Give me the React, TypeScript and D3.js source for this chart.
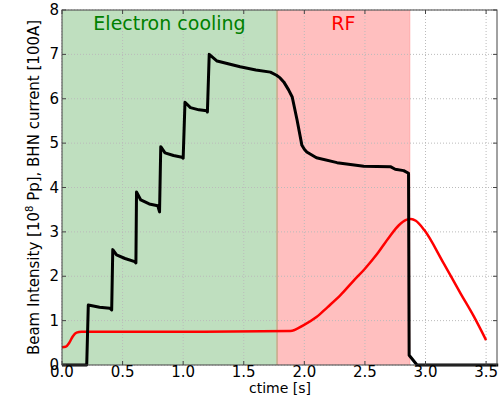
import React, { useEffect, useRef } from "react";
import * as d3 from "d3";

// black: beam intensity / BHN current
const beamT = [0, 0.204, 0.217, 0.31, 0.395, 0.41, 0.419, 0.45, 0.52, 0.6, 0.61,
  0.615, 0.65, 0.72, 0.79, 0.805, 0.815, 0.85, 0.92, 0.99, 1.0, 1.015, 1.06, 1.13, 1.195, 1.2,
  1.215, 1.28, 1.47, 1.6, 1.72, 1.77, 1.8, 1.83, 1.87, 1.9, 1.94, 1.98, 2.0, 2.02, 2.1, 2.27, 2.49,
  2.71, 2.75, 2.82, 2.86, 2.865, 2.93, 3.6];
const beamV = [0, 0, 1.35, 1.3, 1.28, 1.24, 2.6, 2.48, 2.4, 2.33, 2.3,
  3.9, 3.72, 3.63, 3.59, 3.45, 4.92, 4.78, 4.72, 4.68, 4.66, 5.92, 5.8, 5.75, 5.73, 5.7,
  7.0, 6.85, 6.72, 6.65, 6.6, 6.53, 6.47, 6.38, 6.2, 6.04, 5.52, 4.95, 4.86, 4.8, 4.67, 4.56, 4.48,
  4.47, 4.41, 4.38, 4.32, 0.22, 0, 0];

// red: RF voltage
const rfT = [0, 0.03, 0.06, 0.09, 0.12, 0.16, 1.0, 1.884, 1.995, 2.1, 2.19, 2.3, 2.4, 2.5, 2.6,
  2.7, 2.78, 2.84, 2.88, 2.92, 2.99, 3.15, 3.29, 3.4, 3.5];
const rfV = [0.4, 0.41, 0.5, 0.65, 0.73, 0.75, 0.75, 0.766, 0.9, 1.08, 1.3, 1.58, 1.88, 2.17, 2.5,
  2.88, 3.15, 3.27, 3.29, 3.25, 3.04, 2.29, 1.61, 1.09, 0.56];

const xTicks = [0, 0.5, 1.0, 1.5, 2.0, 2.5, 3.0, 3.5];
const yTicks = [0, 1, 2, 3, 4, 5, 6, 7, 8];
const spans = [
  { name: "Electron cooling", from: 0, to: 1.775, fill: "#bfdfbf", color: "#008000" },
  { name: "RF", from: 1.775, to: 2.87, fill: "#ffbfbf", color: "#ff0000" },
];

const App = () => {
  const svgRef = useRef(null);

  useEffect(() => {
    const width = 501;
    const height = 397;
    const m = { left: 62, top: 10, right: 4, bottom: 32 };
    const svg = d3.select(svgRef.current);
    svg.selectAll("*").remove();
    svg.attr("width", width).attr("height", height);

    const x = d3.scaleLinear().domain([0, 3.59]).range([m.left, width - m.right]);
    const y = d3.scaleLinear().domain([0, 8]).range([height - m.bottom, m.top]);
    const font = "DejaVu Sans, sans-serif";

    svg.append("rect").attr("width", width).attr("height", height).attr("fill", "white");

    // shaded phases
    spans.forEach(s => {
      svg.append("rect")
        .attr("x", x(s.from)).attr("y", y(8))
        .attr("width", x(s.to) - x(s.from)).attr("height", y(0) - y(8))
        .attr("fill", s.fill);
    });
    svg.append("line")
      .attr("x1", x(1.775)).attr("x2", x(1.775)).attr("y1", y(8)).attr("y2", y(0))
      .attr("stroke", "#c8a888").attr("stroke-width", 1.5);
    svg.append("line")
      .attr("x1", x(2.87)).attr("x2", x(2.87)).attr("y1", y(8)).attr("y2", y(0))
      .attr("stroke", "#ffaaaa").attr("stroke-width", 1);

    // grid
    const grid = svg.append("g").attr("stroke", "#bbbbbb").attr("stroke-dasharray", "1,2").attr("stroke-width", 1);
    xTicks.forEach(t => grid.append("line").attr("x1", x(t)).attr("x2", x(t)).attr("y1", y(0)).attr("y2", y(8)));
    yTicks.forEach(t => grid.append("line").attr("x1", x(0)).attr("x2", x(3.59)).attr("y1", y(t)).attr("y2", y(t)));

    // span labels
    svg.append("text").attr("x", (x(0) + x(1.775)) / 2).attr("y", 30)
      .attr("text-anchor", "middle").attr("font-family", font).attr("font-size", 19)
      .attr("fill", spans[0].color).text(spans[0].name);
    svg.append("text").attr("x", (x(1.775) + x(2.87)) / 2).attr("y", 30)
      .attr("text-anchor", "middle").attr("font-family", font).attr("font-size", 19)
      .attr("fill", spans[1].color).text(spans[1].name);

    // curves
    const smooth = d3.line().x(d => x(d[0])).y(d => y(d[1])).curve(d3.curveMonotoneX);
    const line = d3.line().x(d => x(d[0])).y(d => y(d[1]));
    svg.append("path")
      .attr("d", smooth(rfT.map((t, i) => [t, rfV[i]])))
      .attr("fill", "none").attr("stroke", "#ff0000").attr("stroke-width", 2.5)
      .attr("stroke-linejoin", "round");
    svg.append("path")
      .attr("d", line(beamT.map((t, i) => [t, beamV[i]])))
      .attr("fill", "none").attr("stroke", "#000000").attr("stroke-width", 3)
      .attr("stroke-linejoin", "round");

    // frame + ticks
    svg.append("rect").attr("x", x(0)).attr("y", y(8))
      .attr("width", x(3.59) - x(0)).attr("height", y(0) - y(8))
      .attr("fill", "none").attr("stroke", "#444").attr("stroke-width", 1);
    const tk = svg.append("g").attr("stroke", "#444").attr("stroke-width", 1);
    xTicks.forEach(t => {
      tk.append("line").attr("x1", x(t)).attr("x2", x(t)).attr("y1", y(0)).attr("y2", y(0) - 4);
      tk.append("line").attr("x1", x(t)).attr("x2", x(t)).attr("y1", y(8)).attr("y2", y(8) + 4);
    });
    yTicks.forEach(t => {
      tk.append("line").attr("x1", x(0)).attr("x2", x(0) + 4).attr("y1", y(t)).attr("y2", y(t));
      tk.append("line").attr("x1", x(3.59)).attr("x2", x(3.59) - 4).attr("y1", y(t)).attr("y2", y(t));
    });

    xTicks.forEach(t => {
      svg.append("text").attr("x", x(t)).attr("y", y(0) + 12)
        .attr("text-anchor", "middle").attr("font-family", font).attr("font-size", 15)
        .attr("fill", "#000").text(d3.format(".1f")(t));
    });
    yTicks.forEach(t => {
      svg.append("text").attr("x", x(0) - 3).attr("y", y(t) + 5)
        .attr("text-anchor", "end").attr("font-family", font).attr("font-size", 15)
        .attr("fill", "#000").text(String(t));
    });

    svg.append("text").attr("x", 280).attr("y", 393)
      .attr("text-anchor", "middle").attr("font-family", font).attr("font-size", 14)
      .text("ctime [s]");

    const yl = svg.append("text")
      .attr("transform", `translate(39, ${(y(0) + y(8)) / 2}) rotate(-90)`)
      .attr("text-anchor", "middle").attr("font-family", font).attr("font-size", 15);
    yl.append("tspan").text("Beam Intensity [10");
    yl.append("tspan").attr("font-size", 10).attr("dy", -6).text("8");
    yl.append("tspan").attr("dy", 6).text(" Pp], BHN current [100A]");
  }, []);

  return (
    <svg ref={svgRef} style={{ position: "absolute", left: 0, top: 0 }}></svg>
  );
};

export default App;
